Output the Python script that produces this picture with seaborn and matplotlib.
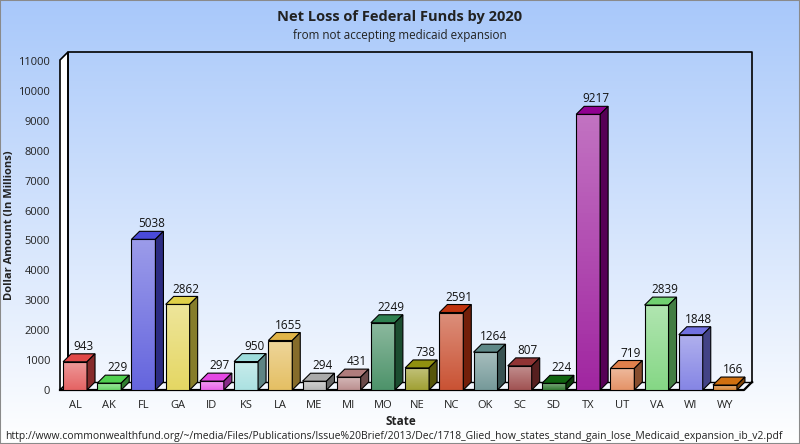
import numpy as np
import matplotlib
import matplotlib.pyplot as plt
from matplotlib.patches import Polygon, Rectangle
from matplotlib.colors import to_rgb
import seaborn as sns

matplotlib.use("Agg")

# data
states = ["AL", "AK", "FL", "GA", "ID", "KS", "LA", "ME", "MI", "MO",
          "NE", "NC", "OK", "SC", "SD", "TX", "UT", "VA", "WI", "WY"]
losses = [943, 229, 5038, 2862, 297, 950, 1655, 294, 431, 2249,
          738, 2591, 1264, 807, 224, 9217, 719, 2839, 1848, 166]
bar_colors = ["#e04848", "#50d050", "#4a4ad8", "#e0d048", "#e448e4",
              "#9cdcdc", "#e0b448", "#aaaaaa", "#b07c7c", "#2e8050",
              "#909010", "#c03410", "#5e8888", "#903434", "#106410",
              "#900090", "#e0804c", "#70d070", "#7070e0", "#d07010"]

title = "Net Loss of Federal Funds by 2020"
subtitle = "from not accepting medicaid expansion"
y_title = "Dollar Amount (In Millions)"
x_title = "State"
source = ("http://www.commonwealthfund.org/~/media/Files/Publications/Issue%20Brief/"
          "2013/Dec/1718_Glied_how_states_stand_gain_lose_Medicaid_expansion_ib_v2.pdf")
y_ticks = list(range(0, 11001, 1000))

plt.rcParams["font.family"] = ["Open Sans", "DejaVu Sans"]


def mix(c, other, t):
    return tuple(np.array(to_rgb(c)) * (1 - t) + np.array(to_rgb(other)) * t)


def vgrad(top, bottom, n=64):
    t = np.linspace(0, 1, n)[:, None]
    return (np.array(top)[None, :] * (1 - t) + np.array(bottom)[None, :] * t)[:, None, :]


fig = plt.figure(figsize=(8, 4.44), dpi=100)

# page background gradient
bg = fig.add_axes([0, 0, 1, 1], zorder=0)
bg.imshow(vgrad(to_rgb("#a8c8fa"), to_rgb("#ffffff"), 256), aspect="auto",
          extent=[0, 1, 0, 1])
bg.axis("off")
fig.patches.append(Rectangle((0, 0), 1, 1, transform=fig.transFigure,
                             fill=False, edgecolor="#8a8a8a", lw=1.5))

ax = fig.add_axes([60 / 800, 54 / 444, 692 / 800, 338 / 444], zorder=1)
ax.patch.set_alpha(0)

x0, x1 = -0.44, 19.79
y_top = 11301
dx, dy = 0.234, 267

palette = {s: mix(c, "white", 0.25) for s, c in zip(states, bar_colors)}
sns.barplot(x=states, y=losses, hue=states, palette=palette, width=0.7,
            saturation=1, legend=False, ax=ax, edgecolor="black", linewidth=0.8)

# walls and floor
ax.add_patch(Polygon([(x0, 0), (x0, y_top - dy), (x0 + dx, y_top), (x0 + dx, dy)],
                     closed=True, facecolor="white", edgecolor="black", lw=1.2,
                     clip_on=False, zorder=1))
ax.plot([x0 + dx, x0 + dx, x1, x1], [dy, y_top, y_top, dy], color="black",
        lw=1.2, clip_on=False, zorder=1)
ax.plot([x0 + dx, x1], [dy, dy], color="black", lw=1.0, clip_on=False, zorder=1)
ax.plot([x0, x1 - dx, x1], [0, 0, dy], color="black", lw=1.6, clip_on=False, zorder=1.5)

for container in ax.containers:
    for bar in container:
        x, w, h = bar.get_x(), bar.get_width(), bar.get_height()
        i = int(round(x + w / 2))
        base = bar_colors[i]
        im = ax.imshow(vgrad(mix(base, "white", 0.45), mix(base, "white", 0.15)),
                       extent=[x, x + w, 0, h], aspect="auto", zorder=2.5)
        im.set_clip_path(bar)
        bar.set_facecolor("none")
        bar.set_zorder(3)
        ax.add_patch(Polygon([(x, h), (x + dx, h + dy), (x + w + dx, h + dy), (x + w, h)],
                             closed=True, facecolor=base, edgecolor="black",
                             lw=0.8, zorder=3))
        ax.add_patch(Polygon([(x + w, 0), (x + w, h), (x + w + dx, h + dy), (x + w + dx, dy)],
                             closed=True, facecolor=mix(base, "black", 0.4),
                             edgecolor="black", lw=0.8, zorder=3))
        ax.text(i + dx, h + dy + 30, f"{losses[i]}", ha="center", va="bottom",
                fontsize=8.5, color="#111111", zorder=4)

ax.set_xlim(x0, x1)
ax.set_ylim(0, y_top)
ax.set_yticks(y_ticks)
ax.set_yticklabels([str(v) for v in y_ticks])
ax.tick_params(length=0, labelsize=8, pad=7, colors="#222222")
ax.set_xlabel("")
ax.set_ylabel("")
for s in ax.spines.values():
    s.set_visible(False)

fig.text(0.5, 1 - 17 / 444, title, ha="center", va="center", fontsize=10.5,
         fontweight="bold", color="#222222")
fig.text(0.5, 1 - 35 / 444, subtitle, ha="center", va="center", fontsize=8.4,
         color="#222222")
fig.text(10 / 800, 1 - 225 / 444, y_title, ha="center", va="center", rotation=90,
         fontsize=8, fontweight="bold", color="#222222")
fig.text(401 / 800, 1 - 421 / 444, x_title, ha="center", va="center",
         fontsize=8.5, fontweight="bold", color="#222222")
fig.text(5 / 800, 1 - 436 / 444, source, ha="left", va="center", fontsize=7.5,
         color="#222222")

fig.savefig("out.png", dpi=100)
